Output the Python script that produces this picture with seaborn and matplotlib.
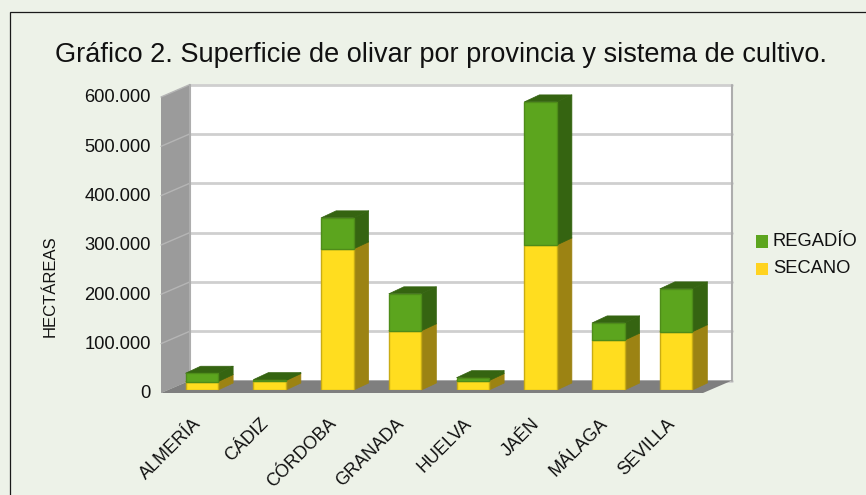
import matplotlib
matplotlib.use("Agg")
import matplotlib.pyplot as plt
import numpy as np
import pandas as pd
import seaborn as sns
from matplotlib.patches import Polygon, Rectangle
from matplotlib.transforms import Affine2D
from matplotlib.lines import Line2D

provincias = ["ALMERÍA", "CÁDIZ", "CÓRDOBA", "GRANADA", "HUELVA", "JAÉN", "MÁLAGA", "SEVILLA"]
secano = [17000, 19000, 286000, 120000, 19000, 294000, 101000, 118000]
regadio = [17000, 2000, 63000, 75000, 6000, 290000, 35000, 87000]
yticks = [0, 100000, 200000, 300000, 400000, 500000, 600000]
yticklabels = ["0", "100.000", "200.000", "300.000", "400.000", "500.000", "600.000"]

W, H = 866, 495
BG = "#EDF2E8"
YEL, YEL_SIDE, YEL_EDGE = "#FFDD1F", "#9C8313", "#C9AC14"
GRN, GRN_SIDE, GRN_EDGE = "#5CA51E", "#356411", "#4E8C19"

sns.set_theme(style="white")
plt.rcParams["font.family"] = ["Liberation Sans", "DejaVu Sans"]

fig = plt.figure(figsize=(W / 100, H / 100), dpi=100, facecolor=BG)
fig.add_artist(Rectangle((9.5 / W, -0.02), 1.0, 1.0 + 0.02 - 11.5 / H, transform=fig.transFigure,
                         fill=False, ec="#1A1A1A", lw=0.9))

# axes sit on the plane of the bars' front faces (pixel box: x 168-710, y 94-390)
ax = fig.add_axes([168 / W, 1 - 390 / H, 542 / W, 296 / H])
ax.patch.set_alpha(0)
for s in ax.spines.values():
    s.set_visible(False)

df = pd.DataFrame({"provincia": provincias, "secano": secano, "regadio": regadio})
sns.barplot(data=df, x="provincia", y="secano", color=YEL, saturation=1, width=0.48,
            ax=ax, edgecolor=YEL_EDGE, linewidth=1.0, zorder=5, order=provincias)
sns.barplot(data=df, x="provincia", y="regadio", bottom=df["secano"], color=GRN, saturation=1, width=0.48,
            ax=ax, edgecolor=GRN_EDGE, linewidth=1.0, zorder=5, order=provincias)
ax.set_xlim(-0.5, 7.5)
ax.set_ylim(0, 600000)


def shifted(dx, dy):
    return ax.transData + Affine2D().translate(dx, dy)


BACK = shifted(22, 9.5)
FRONT = shifted(-7, -3)
x0, x1 = -0.5, 7.5
ymax = 600000


def quad(pts_a, ta, pts_b, tb, **kw):
    """polygon from points on two depth planes, in pixels"""
    a = ta.transform(pts_a)
    b = tb.transform(pts_b)
    p = Polygon(np.vstack([a, b]), closed=True, transform=None, clip_on=False, **kw)
    ax.add_artist(p)
    p.set_clip_on(False)
    return p


def line(xs, ys, tr, **kw):
    l = Line2D(xs, ys, transform=tr, clip_on=False, **kw)
    ax.add_artist(l)
    l.set_clip_on(False)
    return l


# back wall, floor, side wall
quad([(x0, 0), (x1, 0)], BACK, [(x1, ymax), (x0, ymax)], BACK, fc="white", ec="none", zorder=0)
quad([(x0, 0), (x0, ymax)], FRONT, [(x0, ymax), (x0, 0)], BACK, fc="#9B9B9B", ec="none", zorder=1)
for v in yticks[1:]:
    line([x0, x1], [v, v], BACK, color="#CFCFCF", lw=2.0, zorder=0.5)
    p = np.vstack([FRONT.transform([(x0, v)]), BACK.transform([(x0, v)])])
    line(p[:, 0], p[:, 1], None, color="#B5B5B5", lw=1.0, zorder=2)
line([x0, x0], [0, ymax], BACK, color="#ADADAD", lw=1.5, zorder=2)
line([x1, x1], [0, ymax], BACK, color="#ADADAD", lw=1.5, zorder=2)
line([x0, x1], [0, 0], BACK, color="#CFCFCF", lw=2.0, zorder=0.5)
quad([(x0, 0), (x1, 0)], FRONT, [(x1, 0), (x0, 0)], BACK, fc="#7F7F7F", ec="none", zorder=2.5)

# bar depth: side and top faces
DX, DY = 15, 7
w = 0.24
tb = shifted(DX, DY)
for i in range(len(provincias)):
    base = secano[i]
    top = secano[i] + regadio[i]
    z = 3 + i * 0.01
    for lo, hi, side, fz in [(0, base, YEL_SIDE, z), (base, top, GRN_SIDE, z + 0.001)]:
        quad([(i + w, lo), (i + w, hi)], ax.transData, [(i + w, hi), (i + w, lo)], tb,
             fc=side, ec=side, lw=0.5, zorder=fz, joinstyle="round")
        quad([(i - w, hi), (i + w, hi)], ax.transData, [(i + w, hi), (i - w, hi)], tb,
             fc=side, ec=side, lw=0.5, zorder=fz, joinstyle="round")

ax.set_xlabel("")
ax.set_ylabel("HECTÁREAS", fontsize=12, color="#111111", labelpad=0)
ax.yaxis.set_label_coords(-110 / 542, 0.352)
ax.set_yticks(yticks, yticklabels)
ax.tick_params(axis="y", length=0, pad=12.5, labelsize=13.2, labelcolor="#111111")
ax.set_xticks(range(8), provincias)
ax.tick_params(axis="x", length=0, pad=18, labelsize=12.9, labelcolor="#111111")
for lab in ax.get_xticklabels():
    lab.set_rotation(45)
    lab.set_ha("right")
    lab.set_rotation_mode("anchor")
    lab.set_transform(lab.get_transform() + Affine2D().translate(-9.5, 0))
for lab in ax.get_yticklabels():
    lab.set_transform(lab.get_transform() + Affine2D().translate(0, -2))

fig.text(441.5 / W, 1 - 54.5 / H, "Gráfico 2. Superficie de olivar por provincia y sistema de cultivo.",
         ha="center", va="center", fontsize=19.5, color="#111111")

# legend
for label, col, yc in [("REGADÍO", GRN, 241.5), ("SECANO", "#FFD320", 268.5)]:
    fig.add_artist(Rectangle((756 / W, 1 - (yc + 6) / H), 12 / W, 12 / H, transform=fig.transFigure,
                             fc=col, ec="none"))
    fig.text(773 / W, 1 - yc / H, label, ha="left", va="center", fontsize=13.2, color="#111111")

fig.savefig("out.png", dpi=100, facecolor=BG)
